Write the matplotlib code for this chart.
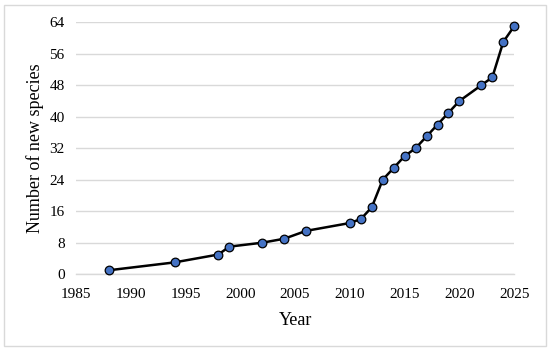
import matplotlib
matplotlib.use("Agg")
import matplotlib.pyplot as plt
from matplotlib.patches import Rectangle

years = [1988, 1994, 1998, 1999, 2002, 2004, 2006, 2010, 2011, 2012, 2013,
         2014, 2015, 2016, 2017, 2018, 2019, 2020, 2022, 2023, 2024, 2025]
species = [1, 3, 5, 7, 8, 9, 11, 13, 14, 17, 24,
           27, 30, 32, 35, 38, 41, 44, 48, 50, 59, 63]
xticks = [1985, 1990, 1995, 2000, 2005, 2010, 2015, 2020, 2025]
yticks = [0, 8, 16, 24, 32, 40, 48, 56, 64]

plt.rcParams['font.family'] = ['Liberation Serif', 'DejaVu Serif']

fig = plt.figure(figsize=(5.5, 3.52), dpi=100)
ax = fig.add_axes([0.138, 0.221, 0.797, 0.716])

fig.patches.append(Rectangle((4/550, 6/352), 542/550, 341/352, transform=fig.transFigure,
                             fill=False, edgecolor='#d9d9d9', linewidth=1.0))

ax.plot(years, species, color='black', linewidth=1.8, marker='o', markersize=6.2,
        markerfacecolor='#4472C4', markeredgecolor='black', markeredgewidth=0.9,
        zorder=3, clip_on=False)

ax.set_xlim(1985, 2025)
ax.set_ylim(0, 64)
ax.set_xticks(xticks)
ax.set_yticks(yticks)
ax.set_xticklabels([str(v) for v in xticks], fontsize=11)
ax.set_yticklabels([str(v) for v in yticks], fontsize=11)
ax.tick_params(axis='x', length=0, pad=10)
ax.tick_params(axis='y', length=0, pad=8)
ax.grid(axis='y', color='#d9d9d9', linewidth=1.0)
ax.set_axisbelow(True)
for s in ['top', 'right', 'left']:
    ax.spines[s].set_visible(False)
ax.spines['bottom'].set_color('#d9d9d9')
ax.spines['bottom'].set_linewidth(1.0)

ax.set_xlabel('Year', fontsize=13, labelpad=8)
ax.set_ylabel('Number of new species', fontsize=13, labelpad=4)

fig.savefig('out.png', dpi=100)
